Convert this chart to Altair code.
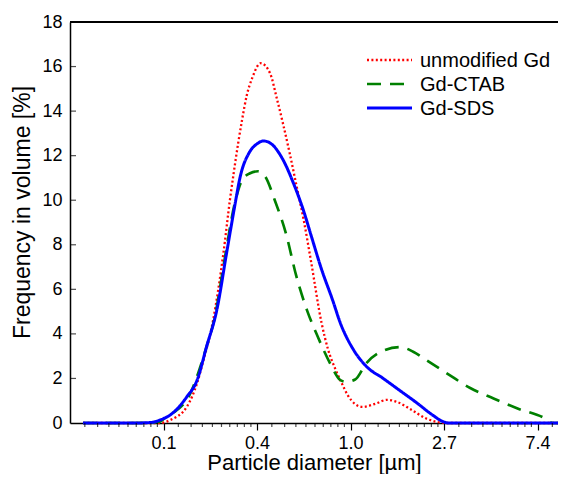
import math
import altair as alt
import pandas as pd

# ---- data (x = ln of particle diameter in µm, y = frequency in volume %) ----
series_names = ["unmodified Gd", "Gd-CTAB", "Gd-SDS"]
series_colors = ["#ff0000", "#008000", "#0000ff"]
series_dashes = [[2, 2.4], [14, 9], [1, 0]]
series_widths = [2.3, 3, 2.6]

red_x = [-2.86, -2.3, -2.04, -1.93, -1.75, -1.64, -1.58, -1.47, -1.36, -1.29, -1.25, -1.20, -1.16,
         -1.11, -1.05, -0.96, -0.86, -0.79, -0.72, -0.65, -0.58, -0.50, -0.42, -0.31, -0.24, -0.16,
         -0.09, -0.03, 0.05, 0.13, 0.27, 0.39, 0.50, 0.66, 0.81, 0.92, 1.04, 1.5, 2.25]
red_y = [0, 0, 0, 0.13, 0.73, 1.8, 2.7, 4.6, 7.6, 10.0, 11.2, 12.6, 13.6,
         14.7, 15.5, 16.15, 15.7, 14.6, 13.4, 12.1, 10.7, 9.1, 7.2, 4.5, 3.3, 2.4,
         1.75, 1.25, 0.85, 0.72, 0.87, 1.04, 0.94, 0.57, 0.2, 0.05, 0, 0, 0]

green_x = [-2.86, -2.3, -2.12, -2.04, -1.97, -1.85, -1.73, -1.63, -1.54, -1.45, -1.36, -1.23, -1.16,
           -1.08, -0.99, -0.91, -0.81, -0.69, -0.58, -0.46, -0.35, -0.22, -0.11, -0.05, 0.05, 0.17,
           0.37, 0.53, 0.67, 0.81, 1.03, 1.28, 1.53, 1.78, 2.10, 2.16, 2.25]
green_y = [0, 0, 0.02, 0.06, 0.28, 0.6, 1.18, 2.23, 3.42, 4.77, 7.0, 10.0, 10.9,
           11.2, 11.3, 11.05, 10.0, 8.5, 6.6, 5.0, 3.87, 2.69, 1.93, 1.85, 1.95, 2.69,
           3.28, 3.41, 3.2, 2.83, 2.23, 1.57, 1.1, 0.66, 0.16, 0, 0]

blue_x = [-2.86, -2.3, -2.12, -2.04, -1.90, -1.75, -1.64, -1.54, -1.43, -1.32, -1.24, -1.18, -1.08,
          -1.00, -0.93, -0.85, -0.72, -0.61, -0.50, -0.42, -0.31, -0.19, -0.11, 0.03, 0.17, 0.35,
          0.53, 0.71, 0.88, 0.99, 1.05, 1.5, 2.25]
blue_y = [0, 0, 0.03, 0.13, 0.45, 1.18, 1.93, 3.42, 5.07, 7.76, 9.7, 11.05, 12.16,
          12.53, 12.66, 12.54, 11.8, 10.76, 9.5, 8.4, 6.9, 5.5, 4.5, 3.3, 2.54, 2.0,
          1.45, 0.9, 0.35, 0.06, 0, 0, 0]

x_major = [-2, -1, 0, 1, 2]           # ln(d); labels show exp() -> 0.1, 0.4, 1.0, 2.7, 7.4
y_major = [0, 2, 4, 6, 8, 10, 12, 14, 16, 18]
y_inner_ticks = [2, 4, 6, 8, 10, 12, 14, 16]

X_MIN, X_MAX = -3.0, 2.219
W, H = 488, 401

rows = []
for name, xs, ys in zip(series_names, [red_x, green_x, blue_x], [red_y, green_y, blue_y]):
    for i, (a, b) in enumerate(zip(xs, ys)):
        rows.append({"series": name, "lnd": a, "freq": b, "i": i})
df = pd.DataFrame(rows)

# minor ticks: 9 linear subdivisions between e^k and e^(k+1)
minor = []
for k in range(-3, 3):
    lo, hi = math.exp(k), math.exp(k + 1)
    for j in range(1, 10):
        v = math.log(lo + j * (hi - lo) / 10)
        if X_MIN < v < X_MAX:
            minor.append(v)
df_minor = pd.DataFrame({"lnd": minor})
df_yt = pd.DataFrame({"freq": y_inner_ticks})

FONT = "Liberation Sans"

x_enc = alt.X(
    "lnd:Q",
    scale=alt.Scale(domain=[X_MIN, X_MAX], nice=False, zero=False),
    axis=alt.Axis(
        values=x_major,
        labelExpr="format(exp(datum.value), '.1f')",
        title="Particle diameter [µm]",
        tickSize=7,
        labelPadding=4,
        titleY=46,
        titleBaseline="alphabetic",
        titleFontSize=22,
    ),
)
y_enc = alt.Y(
    "freq:Q",
    scale=alt.Scale(domain=[0, 18], nice=False),
    axis=alt.Axis(
        values=y_major,
        ticks=False,
        tickSize=0,
        labelPadding=8,
        title="Frequency in volume [%]",
        titleX=-48,
        titleY=190,
        titleBaseline="middle",
        titleAlign="center",
    ),
)

color_scale = alt.Scale(domain=series_names, range=series_colors)
dash_scale = alt.Scale(domain=series_names, range=series_dashes)
width_scale = alt.Scale(domain=series_names, range=series_widths)

lines = alt.Chart(df).mark_line(interpolate="monotone").encode(
    x=x_enc,
    y=y_enc,
    order="i:Q",
    color=alt.Color("series:N", scale=color_scale, legend=None),
    strokeDash=alt.StrokeDash("series:N", scale=dash_scale, legend=None),
    strokeWidth=alt.StrokeWidth("series:N", scale=width_scale, legend=None),
)

minor_ticks = alt.Chart(df_minor).mark_tick(orient="vertical", size=4, thickness=1.2, color="black").encode(
    x=x_enc, y=alt.value(H + 2)
)
y_ticks = alt.Chart(df_yt).mark_tick(orient="horizontal", size=6, thickness=1.2, color="black").encode(
    y=y_enc, x=alt.value(3)
)
top_border = alt.Chart(df_yt).mark_rule(color="black", strokeWidth=1.5).encode(
    x=alt.value(0), x2=alt.value(W), y=alt.value(0)
)

# manual legend (one row per series)
legend_layers = []
for i, name in enumerate(series_names):
    d = pd.DataFrame({"series": [name]})
    ry = 38 + 24 * i
    legend_layers.append(
        alt.Chart(d).mark_rule().encode(
            x=alt.value(297), x2=alt.value(342), y=alt.value(ry),
            color=alt.Color("series:N", scale=color_scale, legend=None),
            strokeDash=alt.StrokeDash("series:N", scale=dash_scale, legend=None),
            strokeWidth=alt.StrokeWidth("series:N", scale=width_scale, legend=None),
        )
    )
    legend_layers.append(
        alt.Chart(d).mark_text(align="left", baseline="middle", font=FONT, fontSize=20, color="black").encode(
            x=alt.value(350), y=alt.value(ry + 1), text="series:N"
        )
    )

chart = alt.layer(lines, minor_ticks, y_ticks, top_border, *legend_layers).properties(
    width=W,
    height=H,
    autosize=alt.AutoSizeParams(type="none"),
    padding={"left": 62, "top": 14, "right": 0, "bottom": 51},
).configure_view(
    stroke=None
).configure_axis(
    grid=False,
    domainColor="black",
    domainWidth=1.5,
    tickColor="black",
    tickWidth=1.2,
    labelFont=FONT,
    labelFontSize=18,
    labelColor="black",
    titleFont=FONT,
    titleFontSize=23,
    titleFontWeight="normal",
    titleColor="black",
)

chart.save("out.html", embed_options={"renderer": "svg", "actions": False})
